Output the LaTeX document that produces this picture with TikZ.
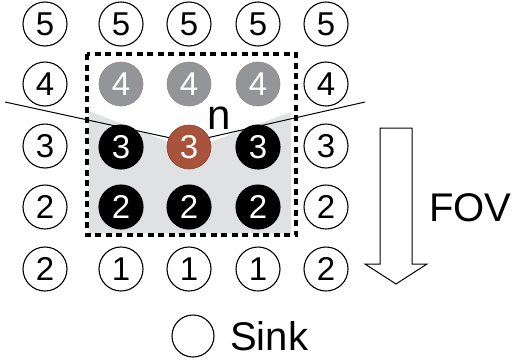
\documentclass[tikz,border=0pt]{standalone}
\usepackage{fontspec}
\setmainfont{Liberation Sans}
\definecolor{bggrey}{HTML}{E0E1E3}
\definecolor{midgrey}{HTML}{939598}
\definecolor{rust}{HTML}{A8533B}
\begin{document}
\begin{tikzpicture}[x=1pt,y=-1pt,
  cell/.style={circle,draw,line width=1.1pt,minimum size=44pt,inner sep=0pt,font=\fontsize{33}{33}\selectfont},
  greycell/.style={cell,fill=midgrey,draw=midgrey!80!rust,text=white,line width=0.6pt},
  blackcell/.style={cell,fill=black,text=white},
  redcell/.style={cell,fill=rust,draw=rust!80!black,text=white,line width=0.6pt},
  bigtext/.style={font=\fontsize{40}{40}\selectfont,inner sep=0pt}]
\useasboundingbox (0,0) rectangle (514,362);
% grey field of view
\fill[bggrey] (89,111) -- (189,150) -- (291,112) -- (291,233) -- (89,233) -- cycle;
% view lines
\coordinate (lA) at (5,102);
\coordinate (m) at (189,142);
\coordinate (lB) at (365,102);
\draw[line width=1pt] (lA) -- (m) -- (lB);
% dashed frame
\draw[line width=3.3pt,dash pattern=on 6pt off 4.5pt] (87,54) rectangle (296,235);
% row 5
\node[cell] (c51) at (45,24) {5};
\node[cell] (c52) at (121,24) {5};
\node[cell] (c53) at (189,24) {5};
\node[cell] (c54) at (258,24) {5};
\node[cell] (c55) at (326,24) {5};
% row 4
\node[cell] (c41) at (45,84) {4};
\node[greycell] (c42) at (121,84) {4};
\node[greycell] (c43) at (189,84) {4};
\node[greycell] (c44) at (258,84) {4};
\node[cell] (c45) at (326,84) {4};
% row 3
\node[cell] (c31) at (45,146) {3};
\node[blackcell] (c32) at (121,147) {3};
\node[redcell] (c33) at (189,147) {3};
\node[blackcell] (c34) at (258,147) {3};
\node[cell] (c35) at (326,146) {3};
% row 2
\node[cell] (c21) at (45,207) {2};
\node[blackcell] (c22) at (121,207) {2};
\node[blackcell] (c23) at (189,207) {2};
\node[blackcell] (c24) at (258,207) {2};
\node[cell] (c25) at (326,207) {2};
% row 1
\node[cell] (c11) at (45,269) {2};
\node[cell] (c12) at (121,269) {1};
\node[cell] (c13) at (189,269) {1};
\node[cell] (c14) at (258,269) {1};
\node[cell] (c15) at (326,269) {2};
% n label
\node[font=\fontsize{42}{42}\selectfont,inner sep=0pt] (n) at (219,118) {n};
% FOV arrow
\draw[line width=1pt,line join=miter] (380,128) -- (380,264) -- (365,264) -- (396,284) -- (427,264) -- (412,264) -- (412,128) -- cycle;
\node[bigtext,anchor=west] (fov) at (429,208) {FOV};
% sink legend
\node[cell,minimum size=42pt] (sink) at (193,336) {};
\node[bigtext,anchor=west] (sinklabel) at (230,336) {Sink};
\end{tikzpicture}
\end{document}
